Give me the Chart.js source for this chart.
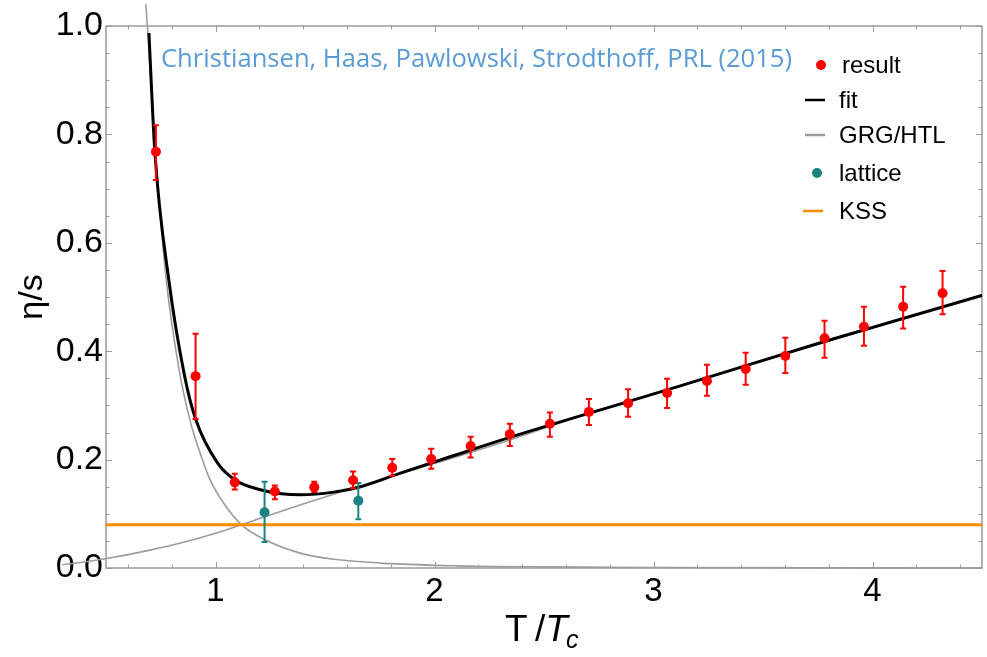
<!DOCTYPE html>
<html>
<head>
<meta charset="utf-8">
<title>eta/s vs T/Tc</title>
<script src="https://cdn.jsdelivr.net/npm/chart.js@4.4.1/dist/chart.umd.min.js"></script>
<style>
  html, body { margin: 0; padding: 0; background: #fff; }
  #wrap { width: 987px; height: 657px; }
</style>
</head>
<body>
<div id="wrap"><canvas id="etaChart" width="987" height="657"></canvas></div>
<script>
// FRG result with error bars
const resultT = [0.728, 0.909, 1.088, 1.271, 1.451, 1.628, 1.807, 1.985, 2.165, 2.344, 2.527,
                 2.705, 2.884, 3.062, 3.244, 3.421, 3.602, 3.781, 3.961, 4.140, 4.320];
const resultEta = [0.768, 0.354, 0.158, 0.141, 0.149, 0.162, 0.185, 0.201, 0.225, 0.247, 0.266,
                   0.288, 0.304, 0.323, 0.345, 0.367, 0.391, 0.424, 0.445, 0.482, 0.507];
const resultLow = [0.716, 0.275, 0.145, 0.127, 0.140, 0.147, 0.170, 0.183, 0.204, 0.225, 0.242,
                   0.264, 0.279, 0.295, 0.318, 0.338, 0.360, 0.388, 0.410, 0.442, 0.468];
const resultHigh = [0.817, 0.432, 0.174, 0.152, 0.159, 0.178, 0.201, 0.220, 0.242, 0.266, 0.287,
                    0.312, 0.330, 0.349, 0.375, 0.397, 0.425, 0.456, 0.482, 0.519, 0.548];

// fit curve
const fitT = [0.696, 0.723, 0.787, 0.859, 0.909, 1.009, 1.091, 1.209, 1.300, 1.390, 1.540,
              1.654, 1.844, 2.100, 2.344, 2.884, 3.115, 3.781, 4.491, 4.5];
const fitEta = [0.987, 0.768, 0.531, 0.354, 0.275, 0.194, 0.162, 0.144, 0.137, 0.135, 0.140,
                0.149, 0.175, 0.209, 0.241, 0.307, 0.335, 0.418, 0.502, 0.503];

// resonance gas branch (GRG) and HTL branch
const grgT = [0.682, 0.689, 0.720, 0.773, 0.832, 0.885, 0.936, 0.973, 1.040, 1.118, 1.222,
              1.390, 1.540, 1.800, 2.100, 2.500, 3.000, 4.500];
const grgEta = [1.040, 1.000, 0.800, 0.540, 0.370, 0.270, 0.205, 0.165, 0.118, 0.080, 0.053,
                0.027, 0.016, 0.008, 0.004, 0.002, 0.001, 0.000];
const htlT = [0.097, 0.300, 0.510, 0.700, 0.850, 1.000, 1.118, 1.222, 1.400, 1.600, 1.844,
              2.100, 2.344, 2.700, 3.100, 3.600, 4.000, 4.500];
const htlEta = [0.000, 0.006, 0.018, 0.033, 0.047, 0.064, 0.0796, 0.094, 0.118, 0.144, 0.174,
                0.205, 0.236, 0.285, 0.333, 0.395, 0.443, 0.501];

// lattice points
const latticeT = [1.224, 1.652];
const latticeEta = [0.103, 0.124];
const latticeLow = [0.048, 0.090];
const latticeHigh = [0.159, 0.157];

// KSS bound 1/(4 pi)
const kssT = [0.5, 4.5];
const kssEta = [0.0796, 0.0796];

const xTickLabels = [1, 2, 3, 4];
const yTickLabels = [0.0, 0.2, 0.4, 0.6, 0.8, 1.0];
const legendLabels = ['result', 'fit', 'GRG/HTL', 'lattice', 'KSS'];
const creditText = 'Christiansen, Haas, Pawlowski, Strodthoff, PRL (2015)';

const RED = '#ff0000';
const TEAL = '#1b8282';
const ORANGE = '#ff8c00';
const GRAY = '#9c9c9c';
const FRAME = '#9a9a9a';

function pts(xs, ys) {
    return xs.map((x, i) => ({ x: x, y: ys[i] }));
}

// error bars, drawn just before the point markers of a dataset
const errorBars = {
    id: 'errorBars',
    beforeDatasetDraw(chart, args) {
        const ds = chart.data.datasets[args.index];
        if (!ds.errLow) return;
        const xs = chart.scales.x, ys = chart.scales.y;
        const ctx = chart.ctx;
        ctx.save();
        ctx.strokeStyle = ds.errColor;
        ctx.lineWidth = 2;
        ds.data.forEach((p, i) => {
            const px = xs.getPixelForValue(p.x);
            const top = ys.getPixelForValue(ds.errHigh[i]);
            const bot = ys.getPixelForValue(ds.errLow[i]);
            ctx.beginPath();
            ctx.moveTo(px, top); ctx.lineTo(px, bot);
            ctx.moveTo(px - 3, top); ctx.lineTo(px + 3, top);
            ctx.moveTo(px - 3, bot); ctx.lineTo(px + 3, bot);
            ctx.stroke();
        });
        ctx.restore();
    }
};

// box frame with inward ticks on all four sides
const frameTicks = {
    id: 'frameTicks',
    beforeDatasetsDraw(chart) {
        const { ctx, chartArea: a } = chart;
        const xs = chart.scales.x, ys = chart.scales.y;
        ctx.save();
        ctx.strokeStyle = FRAME;
        ctx.lineWidth = 1.5;
        ctx.strokeRect(a.left, a.top, a.right - a.left, a.bottom - a.top);
        ctx.lineWidth = 1;
        ctx.beginPath();
        for (let k = 3; k <= 22; k++) {
            const v = k * 0.2;
            const px = Math.round(xs.getPixelForValue(v)) + 0.5;
            const len = (k % 5 === 0) ? 6 : 3.5;
            ctx.moveTo(px, a.bottom); ctx.lineTo(px, a.bottom - len);
            ctx.moveTo(px, a.top); ctx.lineTo(px, a.top + len);
        }
        for (let k = 0; k <= 20; k++) {
            const v = k * 0.05;
            const py = Math.round(ys.getPixelForValue(v)) + 0.5;
            const len = (k % 4 === 0) ? 6 : 3.5;
            ctx.moveTo(a.left, py); ctx.lineTo(a.left + len, py);
            ctx.moveTo(a.right, py); ctx.lineTo(a.right - len, py);
        }
        ctx.stroke();
        ctx.restore();
    },
    afterDraw(chart) {
        const ctx = chart.ctx;
        ctx.save();
        // axis titles
        ctx.fillStyle = '#000';
        ctx.font = '34px "Liberation Sans"';
        ctx.textBaseline = 'middle';
        ctx.textAlign = 'center';
        ctx.translate(33, 297);
        ctx.rotate(-Math.PI / 2);
        ctx.fillText('\u03b7/s', 0, 0);
        ctx.setTransform(1, 0, 0, 1, 0, 0);

        ctx.textAlign = 'left';
        ctx.textBaseline = 'alphabetic';
        let x = 505;
        const base = 641;
        ctx.font = '37px "Liberation Sans"';
        ctx.fillText('T\u2009/', x, base);
        x += ctx.measureText('T\u2009/').width;
        ctx.font = 'italic 37px "Liberation Sans"';
        ctx.fillText('T', x, base);
        x += ctx.measureText('T').width;
        ctx.font = 'italic 25px "Liberation Sans"';
        ctx.fillText('c', x - 2, base + 7);

        // credit line
        ctx.fillStyle = '#5b9bd5';
        ctx.font = '25px "Open Sans"';
        const w = ctx.measureText(creditText).width;
        ctx.translate(161, 67);
        ctx.scale(631 / w, 1);
        ctx.fillText(creditText, 0, 0);
        ctx.setTransform(1, 0, 0, 1, 0, 0);

        // legend
        const rows = [65, 100, 135, 173, 211];
        ctx.font = '24px "Liberation Sans"';
        ctx.textBaseline = 'middle';
        legendLabels.forEach((lab, i) => {
            ctx.fillStyle = '#000';
            ctx.fillText(lab, i === 0 ? 842 : 839, rows[i] + 1);
        });
        ctx.fillStyle = RED;
        ctx.beginPath(); ctx.arc(821, rows[0], 5, 0, 2 * Math.PI); ctx.fill();
        ctx.fillStyle = TEAL;
        ctx.beginPath(); ctx.arc(817, rows[3], 5, 0, 2 * Math.PI); ctx.fill();
        ctx.lineWidth = 2.5;
        [[1, '#000'], [2, GRAY], [4, ORANGE]].forEach(([i, c]) => {
            ctx.strokeStyle = c;
            ctx.beginPath();
            ctx.moveTo(i === 4 ? 803 : 805, rows[i]);
            ctx.lineTo(i === 4 ? 823 : 825, rows[i]);
            ctx.stroke();
        });
        ctx.restore();
    }
};

const tickFont = { family: 'Liberation Sans', size: 33 };

new Chart(document.getElementById('etaChart'), {
    type: 'scatter',
    data: {
        datasets: [
            {
                label: 'result',
                data: pts(resultT, resultEta),
                errLow: resultLow, errHigh: resultHigh, errColor: RED,
                backgroundColor: RED, borderColor: RED,
                pointRadius: 5, pointBorderWidth: 0,
                showLine: false, order: 1,
            },
            {
                label: 'lattice',
                data: pts(latticeT, latticeEta),
                errLow: latticeLow, errHigh: latticeHigh, errColor: TEAL,
                backgroundColor: TEAL, borderColor: TEAL,
                pointRadius: 5, pointBorderWidth: 0,
                showLine: false, order: 2,
            },
            {
                label: 'fit',
                data: pts(fitT, fitEta),
                showLine: true, borderColor: '#000', borderWidth: 3,
                pointRadius: 0, cubicInterpolationMode: 'monotone', order: 3,
            },
            {
                label: 'KSS',
                data: pts(kssT, kssEta),
                showLine: true, borderColor: ORANGE, borderWidth: 3,
                pointRadius: 0, order: 4,
            },
            {
                label: 'GRG',
                data: pts(grgT, grgEta),
                showLine: true, borderColor: GRAY, borderWidth: 1.6,
                pointRadius: 0, cubicInterpolationMode: 'monotone', clip: false, order: 5,
            },
            {
                label: 'HTL',
                data: pts(htlT, htlEta),
                showLine: true, borderColor: GRAY, borderWidth: 1.6,
                pointRadius: 0, cubicInterpolationMode: 'monotone', clip: false, order: 6,
            },
        ],
    },
    options: {
        responsive: false,
        devicePixelRatio: 1,
        animation: false,
        layout: { padding: { top: 26, right: 2, left: 0, bottom: 0 } },
        plugins: {
            legend: { display: false },
            tooltip: { enabled: false },
        },
        scales: {
            x: {
                type: 'linear',
                min: 0.5,
                max: 4.5,
                grid: { display: false, drawTicks: false },
                border: { display: false },
                afterBuildTicks: (axis) => { axis.ticks = xTickLabels.map(v => ({ value: v })); },
                afterFit: (axis) => { axis.height = 89; },
                ticks: {
                    font: tickFont,
                    color: '#000',
                    padding: 4,
                    maxRotation: 0,
                    callback: (v) => String(v),
                },
            },
            y: {
                type: 'linear',
                min: 0,
                max: 1.0,
                grid: { display: false, drawTicks: false },
                border: { display: false },
                afterBuildTicks: (axis) => { axis.ticks = yTickLabels.map(v => ({ value: v })); },
                afterFit: (axis) => { axis.width = 106; },
                ticks: {
                    font: { family: 'Liberation Sans', size: 34 },
                    color: '#000',
                    padding: 3,
                    callback: (v) => v.toFixed(1),
                },
            },
        },
    },
    plugins: [errorBars, frameTicks],
});
</script>
</body>
</html>
